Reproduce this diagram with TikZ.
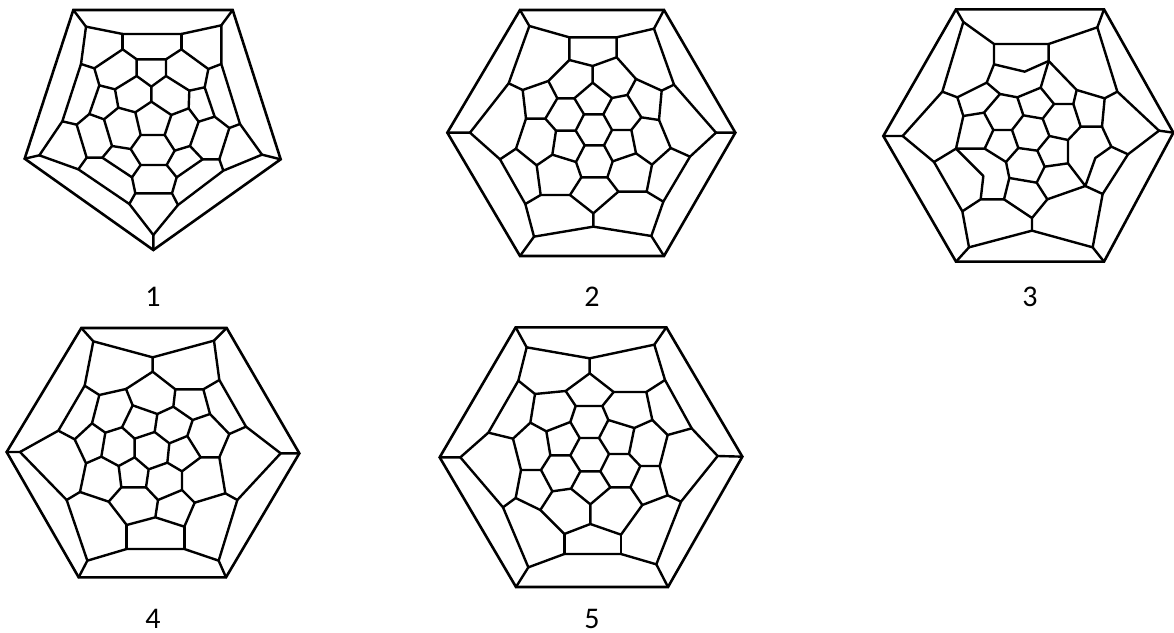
\documentclass[tikz,border=0pt]{standalone}
\usepackage{fontspec}
\setmainfont{Carlito}
\tikzset{
  bond/.style={line width=2.4pt,black,line join=round,line cap=round},
  rim/.style={line width=2.6pt,black,line join=miter},
  panel/.style={x=0.33333pt,y=-0.33333pt},
  caption/.style={font=\fontsize{30}{36}\selectfont,text=black,inner sep=0pt}
}
\begin{document}
\begin{tikzpicture}[x=1pt,y=1pt]
\useasboundingbox (0,0) rectangle (1174,632);
\fill[white] (0,0) rectangle (1174,632);
% ---------- 1
\begin{scope}[shift={(10pt,632pt)},panel]
\draw[rim] (190,30)--(668,30)--(812,478)--(430,750)--(44,476)--cycle;
\draw[bond] (228,80)--(338,102)--(514,102)--(634,76)--(634,192)--(690,372)--(756,464)--(640,512)--(504,615)--(430,705)--(358,612)--(205,508)--(88,466)--(157,364)--(213,192)--(228,80);
\draw[bond] (190,30)--(228,80) (668,30)--(634,76) (812,478)--(756,464) (430,750)--(430,705) (44,476)--(88,466);
\draw[bond] (338,102)--(338,148) (514,102)--(514,148);
\draw[bond] (338,148)--(380,178)--(468,178)--(514,148) (338,148)--(253,205) (514,148)--(595,207) (213,192)--(253,205) (634,192)--(595,207);
\draw[bond] (380,178)--(380,228) (468,178)--(468,228) (380,228)--(424,260)--(468,228) (380,228)--(315,268) (468,228)--(538,272);
\draw[bond] (253,205)--(268,256)--(315,268) (595,207)--(584,262)--(538,272) (424,260)--(424,305);
\draw[bond] (424,305)--(376,337)--(392,405)--(464,405)--(484,345)--(424,305);
\draw[bond] (315,268)--(325,323)--(376,337) (538,272)--(536,325)--(484,345);
\draw[bond] (268,256)--(238,342)--(282,358)--(325,323) (584,262)--(614,350)--(566,365)--(536,325);
\draw[bond] (157,364)--(200,374)--(238,342) (690,372)--(658,384)--(614,350);
\draw[bond] (200,374)--(230,473)--(277,473)--(306,438)--(282,358) (658,384)--(628,478)--(578,478)--(540,438)--(566,365);
\draw[bond] (306,438)--(362,447)--(392,405) (540,438)--(494,452)--(464,405);
\draw[bond] (362,447)--(392,495)--(470,495)--(494,452) (230,473)--(205,508) (628,478)--(640,512);
\draw[bond] (277,473)--(366,532)--(392,495) (578,478)--(500,532)--(470,495);
\draw[bond] (366,532)--(376,580)--(486,580)--(500,532) (376,580)--(358,612) (486,580)--(504,615);
\end{scope}
% ---------- 2
\begin{scope}[shift={(440pt,632pt)},panel]
\draw[rim] (240,30)--(672,30)--(886,398)--(672,768)--(240,768)--(22,398)--cycle;
\draw[bond] (268,78)--(388,112)--(530,112)--(642,86)--(702,254)--(828,398)--(750,470)--(670,605)--(634,708)--(460,680)--(282,710)--(256,612)--(180,478)--(90,398)--(206,250)--(268,78);
\draw[bond] (240,30)--(268,78) (672,30)--(642,86) (886,398)--(828,398) (672,768)--(634,708) (240,768)--(282,710) (22,398)--(90,398);
\draw[bond] (388,112)--(388,180) (530,112)--(530,172) (388,180)--(458,198)--(530,172);
\draw[bond] (388,180)--(325,243)--(248,270)--(206,250) (530,172)--(588,237)--(665,272)--(702,254);
\draw[bond] (458,198)--(458,248) (458,248)--(403,295)--(352,295)--(325,243) (458,248)--(516,294)--(562,285)--(588,237);
\draw[bond] (403,295)--(432,343)--(490,343)--(516,294);
\draw[bond] (352,295)--(316,356)--(258,356)--(248,270) (562,285)--(604,352)--(657,360)--(665,272);
\draw[bond] (316,356)--(348,392)--(407,392)--(432,343) (604,352)--(574,390)--(516,390)--(490,343);
\draw[bond] (407,392)--(434,436)--(492,436)--(516,390);
\draw[bond] (258,356)--(228,446)--(180,478) (657,360)--(692,444)--(750,470);
\draw[bond] (228,446)--(290,496)--(337,464)--(348,392) (692,444)--(636,494)--(588,460)--(574,390);
\draw[bond] (337,464)--(408,486)--(434,436) (588,460)--(518,484)--(492,436);
\draw[bond] (408,486)--(424,532)--(502,532)--(518,484);
\draw[bond] (290,496)--(302,585)--(390,585)--(424,532) (636,494)--(620,575)--(535,575)--(502,532);
\draw[bond] (302,585)--(256,612) (620,575)--(670,605) (390,585)--(460,640)--(535,575) (460,640)--(460,680);
\end{scope}
% ---------- 3
\begin{scope}[shift={(874pt,632pt)},panel]
\draw[rim] (246,28)--(690,28)--(898,398)--(690,785)--(246,785)--(28,408)--cycle;
\draw[bond] (268,66)--(360,132)--(524,132)--(670,82)--(730,275)--(855,392)--(762,463)--(686,582)--(656,742)--(474,692)--(285,742)--(265,634)--(180,486)--(86,408)--(205,275)--(268,66);
\draw[bond] (246,28)--(268,66) (690,28)--(670,82) (898,398)--(855,392) (690,785)--(656,742) (246,785)--(285,742) (28,408)--(86,408);
\draw[bond] (360,132)--(360,193) (524,132)--(524,183) (360,193)--(452,215)--(524,183);
\draw[bond] (360,193)--(338,248)--(250,292)--(205,275);
\draw[bond] (524,183)--(500,263)--(430,292)--(378,282)--(338,248);
\draw[bond] (524,183)--(608,270)--(692,295)--(730,275);
\draw[bond] (608,270)--(598,312)--(540,312)--(500,263);
\draw[bond] (430,292)--(448,346)--(506,356)--(540,312);
\draw[bond] (378,282)--(330,338)--(268,348)--(250,292);
\draw[bond] (330,338)--(358,390)--(414,390)--(448,346);
\draw[bond] (268,348)--(246,446)--(180,486) (246,446)--(332,446)--(358,390);
\draw[bond] (414,390)--(433,444)--(490,452)--(526,408)--(506,356);
\draw[bond] (598,312)--(620,380)--(684,380)--(692,295) (620,380)--(582,420)--(526,408);
\draw[bond] (582,420)--(582,490)--(512,500)--(490,452) (433,444)--(396,486)--(332,446);
\draw[bond] (396,486)--(406,534)--(488,548)--(512,500);
\draw[bond] (684,380)--(712,440)--(762,463) (712,440)--(664,474)--(634,558)--(686,582);
\draw[bond] (582,490)--(634,558)--(520,598)--(488,548);
\draw[bond] (406,534)--(390,598)--(320,598)--(328,528)--(246,446) (320,598)--(265,634);
\draw[bond] (390,598)--(474,654)--(520,598) (474,654)--(474,692);
\end{scope}
% ---------- 4
\begin{scope}[shift={(0pt,312pt)},panel]
\draw[rim] (244,24)--(680,24)--(898,400)--(678,772)--(236,772)--(20,396)--cycle;
\draw[bond] (280,64)--(458,112)--(642,62)--(658,180)--(738,320)--(842,400)--(712,540)--(656,722)--(553,687)--(380,687)--(262,722)--(200,540)--(60,396)--(175,332)--(254,197)--(280,64);
\draw[bond] (244,24)--(280,64) (680,24)--(642,62) (898,400)--(842,400) (678,772)--(656,722) (236,772)--(262,722) (20,396)--(60,396);
\draw[bond] (458,112)--(458,155) (458,155)--(378,207)--(298,225)--(254,197);
\draw[bond] (458,155)--(526,208)--(610,208)--(658,180);
\draw[bond] (378,207)--(398,256)--(472,282)--(520,260)--(526,208);
\draw[bond] (610,208)--(630,282)--(578,300)--(520,260);
\draw[bond] (298,225)--(276,310)--(224,358)--(175,332);
\draw[bond] (276,310)--(316,338)--(366,322)--(398,256);
\draw[bond] (472,282)--(464,336)--(404,356)--(366,322);
\draw[bond] (630,282)--(688,342)--(738,320);
\draw[bond] (688,342)--(658,412)--(602,412)--(562,348)--(578,300) (464,336)--(508,370)--(562,348);
\draw[bond] (404,356)--(404,412)--(356,438)--(304,410)--(316,338);
\draw[bond] (224,358)--(258,430)--(304,410) (258,430)--(240,516)--(200,540);
\draw[bond] (240,516)--(326,545)--(364,502)--(356,438);
\draw[bond] (404,412)--(446,448)--(438,502)--(364,502) (446,448)--(502,428)--(508,370);
\draw[bond] (502,428)--(546,454)--(602,412) (546,454)--(546,510)--(474,540)--(438,502);
\draw[bond] (658,412)--(676,520)--(712,540) (676,520)--(584,548)--(546,510);
\draw[bond] (326,545)--(380,615)--(466,592)--(474,540) (466,592)--(553,620)--(584,548);
\draw[bond] (380,615)--(380,687) (553,620)--(553,687);
\end{scope}
% ---------- 5
\begin{scope}[shift={(435pt,312pt)},panel]
\draw[rim] (242,22)--(694,22)--(922,410)--(699,801)--(243,801)--(14,412)--cycle;
\draw[bond] (275,82)--(464,115)--(658,74)--(690,180)--(770,325)--(848,408)--(738,545)--(664,733)--(558,702)--(388,702)--(280,742)--(204,562)--(76,412)--(160,338)--(250,182)--(275,82);
\draw[bond] (242,22)--(275,82) (694,22)--(658,74) (922,410)--(848,408) (699,801)--(664,733) (243,801)--(280,742) (14,412)--(76,412);
\draw[bond] (464,115)--(464,160) (464,160)--(392,213)--(300,222)--(250,182);
\draw[bond] (464,160)--(536,216)--(634,216)--(690,180);
\draw[bond] (392,213)--(422,258)--(502,258)--(536,216);
\draw[bond] (634,216)--(652,300)--(598,324)--(520,300)--(502,258);
\draw[bond] (300,222)--(286,308)--(334,334)--(406,306)--(422,258);
\draw[bond] (520,300)--(492,354)--(434,354)--(406,306);
\draw[bond] (334,334)--(346,406)--(406,406)--(434,354);
\draw[bond] (598,324)--(582,402)--(522,402)--(492,354);
\draw[bond] (286,308)--(234,356)--(160,338) (652,300)--(698,345)--(770,325);
\draw[bond] (234,356)--(258,450)--(318,450)--(346,406);
\draw[bond] (698,345)--(674,438)--(616,438)--(582,402);
\draw[bond] (406,406)--(436,454)--(496,454)--(522,402);
\draw[bond] (318,450)--(352,514)--(408,506)--(436,454);
\draw[bond] (616,438)--(586,502)--(526,502)--(496,454);
\draw[bond] (258,450)--(242,534)--(204,562) (674,438)--(698,526)--(738,545);
\draw[bond] (242,534)--(316,570)--(352,514) (698,526)--(622,555)--(586,502);
\draw[bond] (408,506)--(466,553)--(526,502) (466,553)--(466,612);
\draw[bond] (316,570)--(388,642)--(466,612)--(558,644)--(622,555);
\draw[bond] (388,642)--(388,702) (558,644)--(558,702);
\end{scope}
% ---------- captions
\node[caption] (c1) at (153,335) {1};
\node[caption] (c2) at (592,335) {2};
\node[caption] (c3) at (1030,335) {3};
\node[caption] (c4) at (153,13) {4};
\node[caption] (c5) at (592,13) {5};
\end{tikzpicture}
\end{document}
